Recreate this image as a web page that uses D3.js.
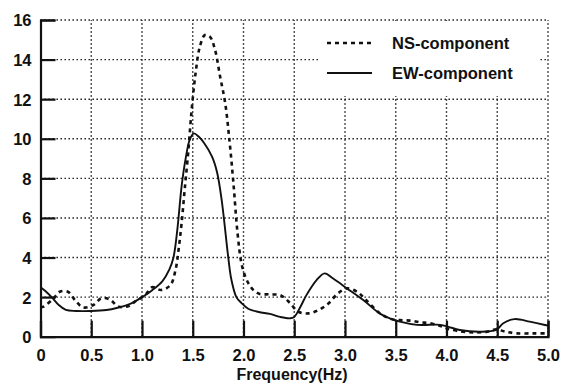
<!DOCTYPE html>
<html><head><meta charset="utf-8">
<script src="https://cdn.jsdelivr.net/npm/d3@7"></script>
<style>body{margin:0;background:#fff}svg{display:block}</style>
</head><body>
<svg id="c" width="563" height="385"></svg>
<script>
const xTicks = [0,0.5,1.0,1.5,2.0,2.5,3.0,3.5,4.0,4.5,5.0];
const xTickLabels = ["0","0.5","1.0","1.5","2.0","2.5","3.0","3.5","4.0","4.5","5.0"];
const yTicks = [0,2,4,6,8,10,12,14,16];
const seriesNames = ["NS-component","EW-component"];
const nsFreq = [0.0,0.03,0.13,0.19,0.27,0.34,0.42,0.52,0.6,0.68,0.77,0.87,0.93,1.03,1.1,1.19,1.28,1.33,1.36,1.39,1.42,1.455,1.49,1.53,1.57,1.62,1.67,1.72,1.77,1.82,1.86,1.9,1.94,1.98,2.02,2.06,2.1,2.16,2.26,2.36,2.41,2.46,2.54,2.64,2.74,2.84,2.93,3.02,3.12,3.2,3.34,3.45,3.54,3.64,3.74,3.84,3.94,4.0,4.1,4.26,4.4,4.49,4.58,4.69,4.86,5.0];
const nsValue = [1.5,1.52,1.94,2.27,2.27,1.85,1.48,1.6,1.94,1.89,1.52,1.55,1.77,2.1,2.5,2.36,2.61,3.37,4.38,5.73,7.4,9.3,11.5,13.4,14.65,15.24,15.15,14.48,13.13,11.79,10.0,7.8,5.3,3.7,3.0,2.6,2.35,2.16,2.14,2.1,1.94,1.69,1.26,1.18,1.35,1.69,2.19,2.44,2.27,1.89,1.2,0.9,0.84,0.81,0.73,0.68,0.54,0.42,0.3,0.22,0.25,0.37,0.25,0.17,0.17,0.17];
const ewFreq = [0.0,0.05,0.11,0.18,0.25,0.35,0.5,0.65,0.75,0.9,1.0,1.1,1.2,1.27,1.31,1.35,1.39,1.43,1.47,1.51,1.56,1.61,1.69,1.74,1.785,1.85,1.88,1.93,1.98,2.05,2.15,2.26,2.36,2.46,2.5,2.56,2.62,2.72,2.80,2.88,3.02,3.18,3.34,3.44,3.54,3.71,3.94,4.02,4.13,4.33,4.49,4.56,4.67,4.82,4.97,5.0];
const ewValue = [2.5,2.3,2.0,1.6,1.35,1.3,1.3,1.35,1.45,1.7,2.0,2.35,2.8,3.4,4.0,5.5,7.6,9.0,9.95,10.27,10.1,9.8,9.1,8.3,6.9,4.0,2.9,2.0,1.7,1.4,1.25,1.15,1.0,0.93,1.0,1.5,2.1,2.86,3.2,2.95,2.44,1.85,1.18,0.93,0.76,0.6,0.6,0.5,0.34,0.25,0.34,0.68,0.89,0.76,0.59,0.55];

const svg = d3.select("#c");
const L=40.5, R=548, T=20, B=336.7;
const x = d3.scaleLinear().domain([0,5]).range([L,R]);
const y = d3.scaleLinear().domain([0,16]).range([B,T]);
const ink = "#111";

// grid
const g = svg.append("g").attr("stroke",ink).attr("stroke-width",1.4).attr("stroke-dasharray","1.4,2.6");
g.selectAll("line.v").data(xTicks.filter(d=>d>0)).join("line")
  .attr("x1",d=>x(d)).attr("x2",d=>x(d)).attr("y1",y(0)).attr("y2",y(16));
g.selectAll("line.h").data(yTicks.filter(d=>d>0)).join("line")
  .attr("x1",x(0)).attr("x2",x(5)).attr("y1",d=>y(d)).attr("y2",d=>y(d));

// legend background
svg.append("rect").attr("x",320).attr("y",23).attr("width",218).attr("height",73).attr("fill","#fff");

// axes
const xAxis = d3.axisBottom(x).tickValues(xTicks).tickSize(-16).tickFormat((d,i)=>xTickLabels[i]);
const yAxis = d3.axisLeft(y).tickValues(yTicks).tickSize(-15).tickFormat(d3.format("d"));
const gx = svg.append("g").attr("transform",`translate(0,${B})`).call(xAxis);
const gy = svg.append("g").attr("transform",`translate(${L},0)`).call(yAxis);
[gx,gy].forEach(a=>{
  a.select(".domain").attr("stroke",ink).attr("stroke-width",2.2);
  a.selectAll(".tick line").attr("stroke",ink).attr("stroke-width",2.2);
  a.selectAll(".tick text").attr("fill",ink).attr("font-family","Liberation Sans, Arial, sans-serif")
   .attr("font-weight","bold").attr("font-size",16.5);
});
gx.selectAll(".tick text").attr("y",13).attr("dy","0.71em");
gy.selectAll(".tick text").attr("x",-9).attr("dy","0.36em");
gy.select(".tick:first-of-type line").remove();

svg.append("text").attr("x",292).attr("y",380).attr("text-anchor","middle")
  .attr("font-family","Liberation Sans, Arial, sans-serif").attr("font-size",16).attr("font-weight","bold").attr("fill",ink)
  .text("Frequency(Hz)");

// lines
const line = d3.line().x(d=>x(d[0])).y(d=>y(d[1])).curve(d3.curveCatmullRom.alpha(0.5));
const ns = nsFreq.map((f,i)=>[f,nsValue[i]]);
const ew = ewFreq.map((f,i)=>[f,ewValue[i]]);
svg.append("path").attr("d",line(ns)).attr("fill","none").attr("stroke",ink).attr("stroke-width",2.6).attr("stroke-dasharray","4,4");
svg.append("path").attr("d",line(ew)).attr("fill","none").attr("stroke",ink).attr("stroke-width",1.9);

// legend
const leg = svg.append("g");
const legY = [43,73];
leg.append("line").attr("x1",327).attr("x2",372).attr("y1",legY[0]).attr("y2",legY[0]).attr("stroke",ink).attr("stroke-width",2.4).attr("stroke-dasharray","4,4");
leg.append("line").attr("x1",327).attr("x2",372).attr("y1",legY[1]).attr("y2",legY[1]).attr("stroke",ink).attr("stroke-width",1.9);
leg.selectAll("text").data(seriesNames).join("text")
  .attr("x",392).attr("y",(d,i)=>legY[i]).attr("dy","0.36em")
  .attr("font-family","Liberation Sans, Arial, sans-serif").attr("font-size",16.5).attr("font-weight","bold").attr("fill",ink)
  .text(d=>d);
</script>
</body></html>
